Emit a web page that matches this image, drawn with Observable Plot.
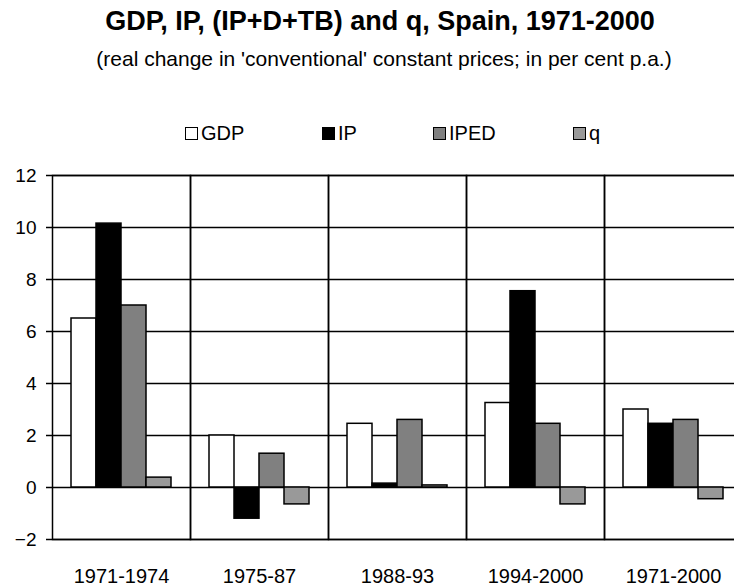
<!DOCTYPE html>
<html>
<head>
<meta charset="utf-8">
<script src="https://cdn.jsdelivr.net/npm/d3@7"></script>
<script src="https://cdn.jsdelivr.net/npm/@observablehq/plot@0.6"></script>
<style>
  html, body { margin: 0; padding: 0; background: white; overflow: hidden; }
  body { font-family: "Liberation Sans", Arial, sans-serif; }
  #wrap { position: relative; width: 734px; height: 588px; overflow: hidden; background: white; }
  #title { position: absolute; top: 8px; left: 0; width: 760px; text-align: center; font-weight: bold; font-size: 27px; line-height: 1; white-space: nowrap; }
  #subtitle { position: absolute; top: 48px; left: 0; width: 768px; text-align: center; font-size: 21px; line-height: 1; white-space: nowrap; }
  #legend { position: absolute; top: 123px; left: 0; width: 734px; height: 24px; font-size: 20px; line-height: 1; }
  .item { position: absolute; top: 0; display: flex; align-items: center; gap: 3px; white-space: nowrap; }
  .sw { width: 13px; height: 13px; border: 1px solid black; box-sizing: border-box; }
  #chart { position: absolute; top: 165px; left: 0; }
</style>
</head>
<body>
<div id="wrap">
  <div id="title">GDP, IP, (IP+D+TB) and q, Spain, 1971-2000</div>
  <div id="subtitle">(real change in 'conventional' constant prices; in per cent p.a.)</div>
  <div id="legend"></div>
  <div id="chart"></div>
</div>
<script>
const categories = ["1971-1974", "1975-87", "1988-93", "1994-2000", "1971-2000"];
const seriesNames = ["GDP", "IP", "IPED", "q"];
const GDP  = [6.5, 2.0, 2.45, 3.25, 3.0];
const IP   = [10.15, -1.2, 0.15, 7.55, 2.45];
const IPED = [7.0, 1.3, 2.6, 2.45, 2.6];
const q    = [0.38, -0.65, 0.08, -0.65, -0.45];
const yTicks = [-2, 0, 2, 4, 6, 8, 10, 12];
const colors = ["white", "black", "#808080", "#999999"];

const seriesValues = [GDP, IP, IPED, q];
const data = [];
categories.forEach((c, i) => {
  seriesNames.forEach((s, j) => data.push({cat: c, series: s, value: seriesValues[j][i]}));
});

const legendLefts = [185, 322, 433, 573];
const legend = document.getElementById("legend");
seriesNames.forEach((s, j) => {
  const it = document.createElement("div");
  it.className = "item";
  it.style.left = legendLefts[j] + "px";
  const sw = document.createElement("div");
  sw.className = "sw";
  sw.style.background = colors[j];
  const t = document.createElement("span");
  t.textContent = s;
  it.appendChild(sw); it.appendChild(t);
  legend.appendChild(it);
});

const chart = Plot.plot({
  width: 743,
  height: 423,
  marginLeft: 50,
  marginRight: 0,
  marginTop: 10,
  marginBottom: 49,
  style: {fontSize: "19px", fontFamily: "'Liberation Sans', Arial, sans-serif", maxWidth: "none", color: "black", background: "white"},
  fx: {domain: categories, padding: 0},
  x: {domain: seriesNames, paddingInner: 0, paddingOuter: 0.72},
  y: {domain: [-2, 12]},
  color: {domain: seriesNames, range: colors},
  marks: [
    Plot.ruleY(yTicks, {stroke: "black", strokeWidth: 1.5}),
    Plot.frame({stroke: "black", strokeWidth: 1.5}),
    Plot.barY(data, {fx: "cat", x: "series", y: "value", fill: "series", stroke: "black", strokeWidth: 1.5}),
    Plot.axisY(yTicks, {tickSize: 6, tickPadding: 10, label: null, fontSize: 19, strokeWidth: 1.5}),
    Plot.axisFx({anchor: "bottom", tickSize: 0, tickPadding: 29, label: null, fontSize: 20}),
    Plot.axisX({ticks: [], label: null})
  ]
});
document.getElementById("chart").appendChild(chart);
</script>
</body>
</html>
